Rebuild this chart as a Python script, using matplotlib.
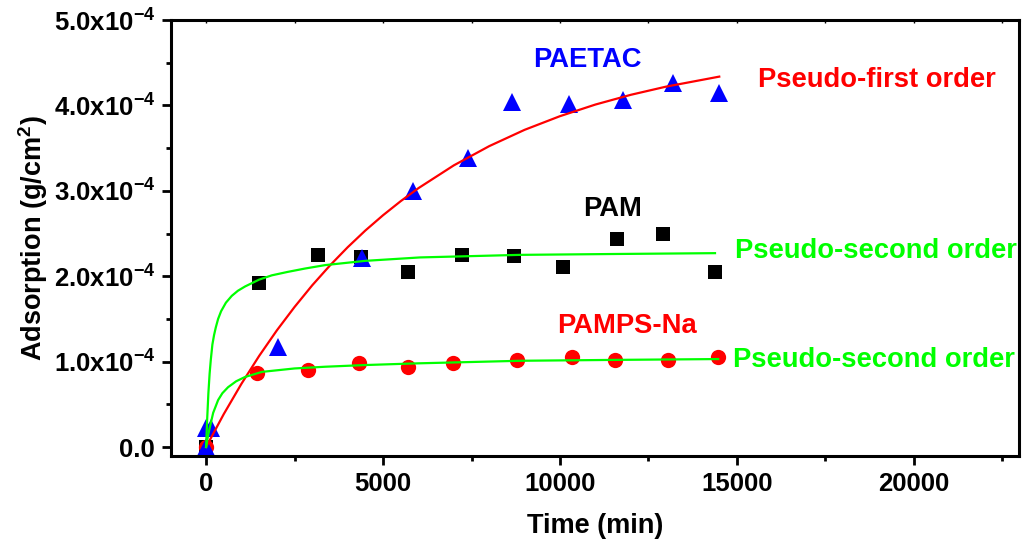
import numpy as np
import matplotlib
matplotlib.use("Agg")
import matplotlib.pyplot as plt
from matplotlib.ticker import MultipleLocator, FixedLocator, FixedFormatter

plt.rcParams['font.family'] = ['Liberation Sans', 'DejaVu Sans']
plt.rcParams['font.weight'] = 'bold'
plt.rcParams['mathtext.fontset'] = 'custom'
plt.rcParams['mathtext.rm'] = 'Liberation Sans:bold'
plt.rcParams['mathtext.it'] = 'Liberation Sans:bold'
plt.rcParams['mathtext.bf'] = 'Liberation Sans:bold'

# measured adsorption, units of 1e-4 g/cm2
t_paetac = [0, 0, 150, 2034, 4407, 5847, 7401, 8644, 10254, 11780, 13192, 14492]
q_paetac = [0, 0.22, 0.22, 1.17, 2.21, 3.00, 3.39, 4.04, 4.02, 4.06, 4.26, 4.15]

t_pam = [0, 1497, 3164, 4379, 5706, 7232, 8701, 10085, 11610, 12910, 14379]
q_pam = [0, 1.92, 2.25, 2.22, 2.05, 2.25, 2.24, 2.11, 2.44, 2.50, 2.05]

t_pamps = [0, 1441, 2881, 4322, 5706, 6977, 8785, 10339, 11554, 13051, 14463]
q_pamps = [0, 0.87, 0.90, 0.98, 0.94, 0.98, 1.02, 1.05, 1.02, 1.02, 1.05]

# kinetic fit curves
t_fit1 = [0, 500, 1000, 1500, 2000, 2500, 3000, 3500, 4000, 4500, 5000, 5500,
          6000, 7000, 8000, 9000, 10000, 11000, 12000, 13000, 14500]
q_fit1 = [0, 0.386, 0.741, 1.067, 1.366, 1.640, 1.894, 2.126, 2.339, 2.535,
          2.714, 2.879, 3.031, 3.298, 3.523, 3.714, 3.874, 4.010, 4.124, 4.220, 4.337]

t_fit2_pam = [0, 30, 65, 100, 133, 178, 225, 274, 340, 424, 560, 726, 900, 1102,
              1300, 1497, 1855, 2300, 2797, 3362, 4500, 6045, 8870, 11500, 14380]
q_fit2_pam = [0, 0.32, 0.63, 0.86, 1.02, 1.20, 1.31, 1.40, 1.50, 1.59, 1.69, 1.77,
              1.83, 1.88, 1.92, 1.96, 2.01, 2.05, 2.09, 2.13, 2.18, 2.22, 2.25, 2.26, 2.27]

t_fit2_pamps = [0, 50, 100, 200, 340, 460, 620, 850, 1100, 1580, 2500, 3360,
                4500, 6000, 8900, 11500, 14470]
q_fit2_pamps = [0, 0.12, 0.22, 0.40, 0.55, 0.63, 0.70, 0.77, 0.82, 0.88, 0.92,
                0.94, 0.96, 0.98, 1.01, 1.02, 1.03]

ytick_vals = [0, 1, 2, 3, 4, 5]
ytick_text = ['0.0', r'1.0x10$^{-4}$', r'2.0x10$^{-4}$', r'3.0x10$^{-4}$',
              r'4.0x10$^{-4}$', r'5.0x10$^{-4}$']

s = 1e-4
fig = plt.figure(figsize=(10.23, 5.48), dpi=100)
ax = fig.add_axes([0.1672, 0.1679, 0.9961 - 0.1672, 0.9635 - 0.1679])

ax.plot(t_pam, np.array(q_pam) * s, 's', color='black', ms=9.5, mew=0)
ax.plot(t_pamps, np.array(q_pamps) * s, 'o', color='#ff0000', ms=11, mew=0)
ax.plot(t_paetac, np.array(q_paetac) * s, '^', color='#0000ff', ms=12.5, mew=0)

ax.plot(t_fit1, np.array(q_fit1) * s, '-', color='#ff0000', lw=1.6)
ax.plot(t_fit2_pam, np.array(q_fit2_pam) * s, '-', color='#00ff00', lw=1.6)
ax.plot(t_fit2_pamps, np.array(q_fit2_pamps) * s, '-', color='#00ff00', lw=1.6)

fs = 19.7
ax.text(9237, 4.444 * s, 'PAETAC', color='#0000ff', fontsize=fs, fontweight='bold')
ax.text(10650, 2.702 * s, 'PAM', color='black', fontsize=fs, fontweight='bold')
ax.text(9915, 1.333 * s, 'PAMPS-Na', color='#ff0000', fontsize=fs, fontweight='bold')
ax.text(15593, 4.211 * s, 'Pseudo-first order', color='#ff0000', fontsize=fs, fontweight='bold')
ax.text(14944, 2.211 * s, 'Pseudo-second order', color='#00ff00', fontsize=fs, fontweight='bold')
ax.text(14887, 0.936 * s, 'Pseudo-second order', color='#00ff00', fontsize=fs, fontweight='bold')

ax.set_xlim(-990, 22970)
ax.set_ylim(-0.105e-4, 5e-4)

ax.xaxis.set_major_locator(MultipleLocator(5000))
ax.xaxis.set_minor_locator(MultipleLocator(2500))
ax.yaxis.set_major_locator(FixedLocator([v * s for v in ytick_vals]))
ax.yaxis.set_major_formatter(FixedFormatter(ytick_text))
ax.yaxis.set_minor_locator(MultipleLocator(0.5e-4))

for sp in ax.spines.values():
    sp.set_linewidth(2.2)

ax.tick_params(axis='both', which='major', direction='out', length=6.5, width=2,
               labelsize=18.5, pad=5)
ax.tick_params(axis='both', which='minor', direction='out', length=3.5, width=2)

# small inward ticks along the top edge
top = ax.secondary_xaxis('top')
top.xaxis.set_major_locator(MultipleLocator(2500))
top.tick_params(direction='in', length=2.5, width=1, labeltop=False)
top.spines['top'].set_visible(False)

ax.set_xlabel('Time (min)', fontsize=19.5, fontweight='bold', labelpad=12)
ax.set_ylabel('Adsorption (g/cm$^{2}$)', fontsize=19.5, fontweight='bold', labelpad=3)

fig.savefig('out.png', dpi=100)
